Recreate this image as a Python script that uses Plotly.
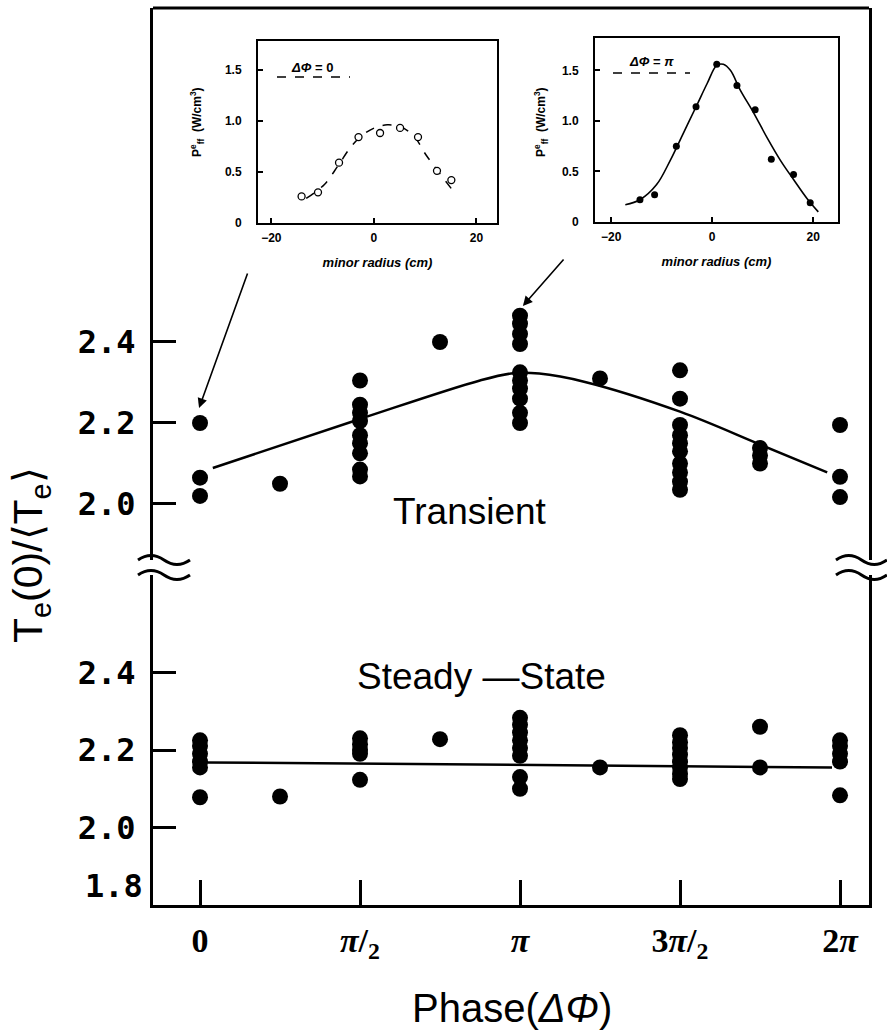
import plotly.graph_objects as go

# ---------------- data ----------------
# main panel: phase in units of pi
phase_ticks = [0, 0.5, 1.0, 1.5, 2.0]
phase_labels = ["0", "<i>π</i>/<sub>2</sub>", "<i>π</i>", "3<i>π</i>/<sub>2</sub>", "2<i>π</i>"]

phase_groups = [0, 0.25, 0.5, 0.75, 1.0, 1.25, 1.5, 1.75, 2.0]
transient_values = [
    [2.20, 2.065, 2.02],
    [2.05],
    [2.305, 2.245, 2.225, 2.205, 2.17, 2.15, 2.125, 2.085, 2.068],
    [2.40],
    [2.465, 2.445, 2.42, 2.395, 2.325, 2.305, 2.285, 2.26, 2.225, 2.20],
    [2.31],
    [2.33, 2.26, 2.195, 2.17, 2.15, 2.13, 2.10, 2.078, 2.055, 2.035],
    [2.138, 2.12, 2.10],
    [2.195, 2.067, 2.017],
]
steady_values = [
    [2.225, 2.21, 2.19, 2.17, 2.155, 2.078],
    [2.08],
    [2.23, 2.215, 2.20, 2.19, 2.123],
    [2.228],
    [2.283, 2.265, 2.245, 2.225, 2.205, 2.185, 2.13, 2.10],
    [2.155],
    [2.238, 2.22, 2.205, 2.188, 2.17, 2.155, 2.138, 2.125],
    [2.26, 2.155],
    [2.225, 2.21, 2.19, 2.17, 2.083],
]
transient_fit_phase = [0.04, 0.5, 0.875, 0.98, 1.06, 1.2, 1.5, 1.75, 1.96]
transient_fit_value = [2.089, 2.21, 2.305, 2.323, 2.322, 2.302, 2.228, 2.147, 2.078]
steady_fit_phase = [0.016, 1.975]
steady_fit_value = [2.168, 2.155]

upper_ticks = [2.0, 2.2, 2.4]
lower_ticks = [2.0, 2.2, 2.4]
lower_base_label = "1.8"

# insets: P_ff^e (W/cm^3) vs minor radius (cm)
inset0_r = [-14.1, -10.9, -6.8, -3.0, 1.2, 5.1, 8.6, 12.3, 15.1]
inset0_p = [0.26, 0.30, 0.59, 0.84, 0.88, 0.93, 0.84, 0.51, 0.42]
inset0_fit_r = [-13.2, -9.6, -7.0, -4.4, -2.2, 0.1, 2.6, 5.2, 7.8, 10.1, 12.3, 15.5]
inset0_fit_p = [0.24, 0.38, 0.56, 0.75, 0.86, 0.93, 0.96, 0.94, 0.85, 0.67, 0.52, 0.31]

inset1_r = [-14.3, -11.4, -7.1, -3.2, 0.9, 4.9, 8.5, 11.7, 16.1, 19.4]
inset1_p = [0.22, 0.27, 0.75, 1.14, 1.56, 1.35, 1.11, 0.62, 0.47, 0.19]
inset1_fit_r = [-17.2, -14.3, -11.0, -8.3, -5.7, -3.0, -1.0, 0.9, 2.2, 3.6, 5.5, 8.2,
                10.8, 13.5, 16.1, 18.8, 21.0]
inset1_fit_p = [0.17, 0.22, 0.37, 0.61, 0.88, 1.16, 1.37, 1.55, 1.56, 1.50, 1.31, 1.08,
                0.84, 0.61, 0.42, 0.23, 0.10]

inset_xticks = [-20, 0, 20]
inset_yticks = [0, 0.5, 1.0, 1.5]
inset_ylabels = ["0", "0.5", "1.0", "1.5"]

# ---------------- geometry helpers (layout only) ----------------
W, H = 887, 1035
ML, MR, MT, MB = 153, 18, 8, 130
PW, PH = W - ML - MR, H - MT - MB


def pxx(x):
    return (x - ML) / PW


def pxy(y):
    return (H - MB - y) / PH


def flatten(groups, values):
    xs, ys = [], []
    for g, vals in zip(groups, values):
        for v in vals:
            xs.append(g)
            ys.append(v)
    return xs, ys


tx, ty = flatten(phase_groups, transient_values)
sx, sy = flatten(phase_groups, steady_values)

fig = go.Figure()

# main panel traces
fig.add_trace(go.Scatter(x=tx, y=ty, xaxis="x", yaxis="y2", mode="markers",
                         marker=dict(size=16, color="black"), showlegend=False))
fig.add_trace(go.Scatter(x=transient_fit_phase, y=transient_fit_value, xaxis="x", yaxis="y2",
                         mode="lines", line=dict(color="black", width=2.5, shape="spline"),
                         showlegend=False))
fig.add_trace(go.Scatter(x=sx, y=sy, xaxis="x", yaxis="y", mode="markers",
                         marker=dict(size=16, color="black"), showlegend=False))
fig.add_trace(go.Scatter(x=steady_fit_phase, y=steady_fit_value, xaxis="x", yaxis="y",
                         mode="lines", line=dict(color="black", width=2.5), showlegend=False))

# insets
fig.add_trace(go.Scatter(x=inset0_fit_r, y=inset0_fit_p, xaxis="x3", yaxis="y3", mode="lines",
                         line=dict(color="black", width=1.5, dash="dash", shape="spline"),
                         showlegend=False))
fig.add_trace(go.Scatter(x=inset0_r, y=inset0_p, xaxis="x3", yaxis="y3", mode="markers",
                         marker=dict(size=7, color="white", line=dict(color="black", width=1.3)),
                         showlegend=False))
fig.add_trace(go.Scatter(x=inset1_fit_r, y=inset1_fit_p, xaxis="x4", yaxis="y4",
                         mode="lines", line=dict(color="black", width=1.6, shape="spline"),
                         showlegend=False))
fig.add_trace(go.Scatter(x=inset1_r, y=inset1_p, xaxis="x4", yaxis="y4", mode="markers",
                         marker=dict(size=7, color="black"), showlegend=False))

axis_line = dict(showline=True, linecolor="black", showgrid=False, zeroline=False)
main_tickfont = dict(family="DejaVu Sans Mono", size=32, color="black", weight="bold")
inset_tickfont = dict(family="Liberation Sans", size=12, color="black", weight="bold")
inset_title_font = dict(family="Liberation Sans", size=13, color="black",
                        style="italic", weight="bold")

y_lo_top = pxy(575)
y_hi_bot = pxy(560)

fig.update_layout(
    width=W, height=H,
    margin=dict(l=ML, r=MR, t=MT, b=MB),
    paper_bgcolor="white", plot_bgcolor="white",
    xaxis=dict(domain=[0, 1], range=[-0.1469, 2.0906], anchor="y",
               tickvals=phase_ticks, ticktext=phase_labels,
               ticks="inside", ticklen=25, tickwidth=2.5, tickcolor="black",
               tickfont=dict(family="Liberation Serif", size=34, color="black", weight="bold"),
               ticklabelstandoff=3, linewidth=3, **axis_line),
    yaxis=dict(domain=[0, y_lo_top], range=[1.8, 2.6516], anchor="x",
               tickvals=lower_ticks, ticktext=[f"{v:.1f}" for v in lower_ticks],
               ticks="inside", ticklen=23, tickwidth=2.5, tickcolor="black",
               tickfont=main_tickfont, ticklabelstandoff=8,
               linewidth=3, mirror=True, **axis_line),
    yaxis2=dict(domain=[y_hi_bot, 1], range=[1.8617, 3.2247], anchor="x",
                tickvals=upper_ticks, ticktext=[f"{v:.1f}" for v in upper_ticks],
                ticks="inside", ticklen=23, tickwidth=2.5, tickcolor="black",
                tickfont=main_tickfont, ticklabelstandoff=8,
                linewidth=3, mirror=True, **axis_line),
    xaxis3=dict(domain=[pxx(258), pxx(497)], range=[-22.6, 24.0], anchor="y3",
                tickvals=inset_xticks, ticktext=["−20", "0", "20"],
                ticks="inside", ticklen=5, tickwidth=1.5, tickcolor="black",
                tickfont=inset_tickfont, ticklabelstandoff=3,
                title=dict(text="minor radius (cm)", standoff=13, font=inset_title_font),
                linewidth=2, mirror=True, **axis_line),
    yaxis3=dict(domain=[pxy(223), pxy(41)], range=[0, 1.78], anchor="x3",
                tickvals=inset_yticks, ticktext=inset_ylabels,
                ticks="inside", ticklen=5, tickwidth=1.5, tickcolor="black",
                tickfont=inset_tickfont, ticklabelstandoff=12,
                linewidth=2, mirror=True, **axis_line),
    xaxis4=dict(domain=[pxx(595), pxx(838)], range=[-23.2, 24.9], anchor="y4",
                tickvals=inset_xticks, ticktext=["−20", "0", "20"],
                ticks="inside", ticklen=5, tickwidth=1.5, tickcolor="black",
                tickfont=inset_tickfont, ticklabelstandoff=3,
                title=dict(text="minor radius (cm)", standoff=13, font=inset_title_font),
                linewidth=2, mirror=True, **axis_line),
    yaxis4=dict(domain=[pxy(222), pxy(38)], range=[0, 1.82], anchor="x4",
                tickvals=inset_yticks, ticktext=inset_ylabels,
                ticks="inside", ticklen=5, tickwidth=1.5, tickcolor="black",
                tickfont=inset_tickfont, ticklabelstandoff=12,
                linewidth=2, mirror=True, **axis_line),
)

# ---------------- decorations ----------------
shapes = []
# top border of the main frame
shapes.append(dict(type="line", xref="paper", yref="paper", x0=0, x1=1, y0=1, y1=1,
                   line=dict(color="black", width=3)))


def wave_path(x0, x1, yc):
    w = x1 - x0
    pts = [(x0, yc), (x0 + w * 0.25, yc - 9), (x0 + w * 0.5, yc),
           (x0 + w * 0.75, yc + 9), (x1, yc)]
    p = [(pxx(a), pxy(b)) for a, b in pts]
    return (f"M {p[0][0]},{p[0][1]} Q {p[1][0]},{p[1][1]} {p[2][0]},{p[2][1]} "
            f"Q {p[3][0]},{p[3][1]} {p[4][0]},{p[4][1]}")


for (xa, xb) in [(138, 190), (836, 887)]:
    for yc in (560, 575):
        shapes.append(dict(type="path", xref="paper", yref="paper",
                           path=wave_path(xa, xb, yc),
                           line=dict(color="black", width=3)))

# inset legend dashes
shapes.append(dict(type="line", xref="paper", yref="paper",
                   x0=pxx(277), x1=pxx(350), y0=pxy(77), y1=pxy(77),
                   line=dict(color="black", width=1.5, dash="dash")))
shapes.append(dict(type="line", xref="paper", yref="paper",
                   x0=pxx(613), x1=pxx(690), y0=pxy(73), y1=pxy(73),
                   line=dict(color="black", width=1.5, dash="dash")))
fig.update_layout(shapes=shapes)

ann = []


def text_ann(text, x, y, font, angle=0):
    return dict(text=text, x=pxx(x), y=pxy(y), xref="paper", yref="paper",
                xanchor="center", yanchor="middle", showarrow=False,
                textangle=angle, font=font)


label_font = dict(family="Liberation Sans", size=37, color="black")
ann.append(text_ann("Transient", 470, 511, label_font))
ann.append(text_ann("Steady —State", 481, 676, label_font))
ann.append(text_ann("T<sub>e</sub>(0)/⟨T<sub>e</sub>⟩", 31, 555,
                    dict(family="Liberation Sans", size=41, color="black"), angle=-90))
ann.append(text_ann("Phase(<i>ΔΦ</i>)", 512, 1008,
                    dict(family="Liberation Sans", size=40, color="black")))
# lowest y label of the main axis, sitting just above the corner
ann.append(dict(text=lower_base_label, x=0, y=pxy(886), xref="paper", yref="paper",
                xanchor="right", yanchor="middle", xshift=-8, showarrow=False,
                font=main_tickfont))
# inset y titles
for xc in (197, 541):
    ann.append(text_ann("P<sup>e</sup><sub>ff</sub>  (W/cm<sup>3</sup>)", xc, 122,
                        dict(family="Liberation Sans", size=12, color="black", weight="bold"),
                        angle=-90))
# inset legend texts
legend_font = dict(family="Liberation Sans", size=13, color="black", weight="bold")
ann.append(text_ann("<i>ΔΦ</i> = 0", 312, 67, legend_font))
ann.append(text_ann("<i>ΔΦ</i> = <i>π</i>", 651, 62, legend_font))
# arrows from insets to the data they describe
ann.append(dict(text="", x=-0.003, y=2.237, xref="x", yref="y2", showarrow=True,
                ax=49, ay=-136, arrowhead=2, arrowsize=1.2, arrowwidth=1.6, arrowcolor="black"))
ann.append(dict(text="", x=1.009, y=2.489, xref="x", yref="y2", showarrow=True,
                ax=42, ay=-48, arrowhead=2, arrowsize=1.2, arrowwidth=1.6, arrowcolor="black"))
fig.update_layout(annotations=ann)

fig.write_html("out.html")
